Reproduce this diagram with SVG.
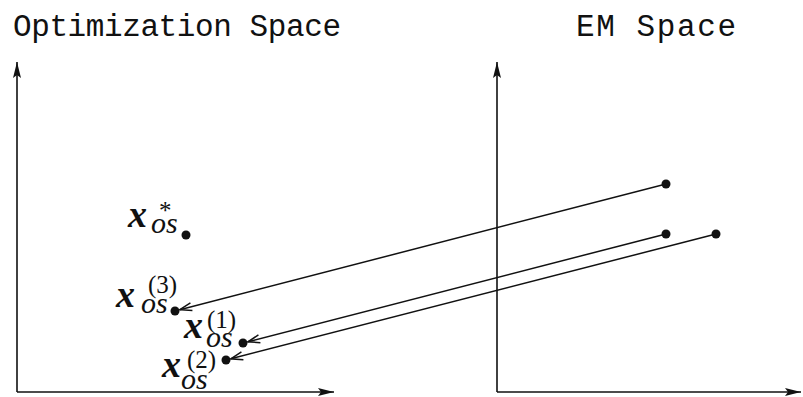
<svg xmlns="http://www.w3.org/2000/svg" width="803" height="397" viewBox="0 0 803 397">
<style>
.title{font-family:"Liberation Mono",monospace;font-size:31px;fill:#111}
.mx{font-family:"Liberation Serif",serif;font-style:italic;font-weight:bold;font-size:38px;fill:#111}
.sub{font-family:"Liberation Serif",serif;font-style:italic;font-size:30px;fill:#111}
.sup{font-family:"Liberation Serif",serif;font-size:25px;fill:#111}
.axis{stroke:#111;stroke-width:1.6;fill:none}
.conn{stroke:#111;stroke-width:1.5;fill:none}
.dot{fill:#111}
</style>
<defs>
<marker id="axhead" markerUnits="userSpaceOnUse" markerWidth="20" markerHeight="12" refX="16" refY="5" orient="auto" overflow="visible">
<path d="M0,1 L16,5 L0,9 L3,5 Z" fill="#111"/>
</marker>
<marker id="vhead" markerUnits="userSpaceOnUse" markerWidth="16" markerHeight="12" refX="0" refY="0" orient="auto" overflow="visible">
<path d="M-12,-4 L0,0 L-12,4" fill="none" stroke="#111" stroke-width="1.5"/>
</marker>
</defs>
<g id="titles">
<text class="title" x="13" y="36" textLength="328" lengthAdjust="spacing">Optimization Space</text>
<text class="title" x="576" y="36" textLength="160" lengthAdjust="spacing">EM Space</text>
</g>
<g id="axes">
<path class="axis" d="M17,392 L17,62" marker-end="url(#axhead)"/>
<path class="axis" d="M17,392 L334,392" marker-end="url(#axhead)"/>
<path class="axis" d="M497,392 L497,62" marker-end="url(#axhead)"/>
<path class="axis" d="M497,392 L801,392" marker-end="url(#axhead)"/>
</g>
<g id="connectors">
<line class="conn" x1="666" y1="184" x2="179.8" y2="309.7" marker-end="url(#vhead)"/>
<line class="conn" x1="666" y1="234" x2="247.8" y2="341.8" marker-end="url(#vhead)"/>
<line class="conn" x1="716" y1="234" x2="230.8" y2="358.8" marker-end="url(#vhead)"/>
</g>
<g id="node-xstar">
<circle class="dot" cx="186" cy="235" r="4.5"/>
<text class="mx" x="128" y="227">x</text>
<text class="sub" x="151" y="233">os</text>
<text class="sup" x="159" y="219">*</text>
</g>
<g id="node-x3">
<circle class="dot" cx="175" cy="311" r="4.5"/>
<text class="mx" x="116" y="307">x</text>
<text class="sub" x="141" y="313">os</text>
<text class="sup" x="148" y="293">(3)</text>
</g>
<g id="node-x1">
<circle class="dot" cx="243" cy="343" r="4.5"/>
<text class="mx" x="184" y="338">x</text>
<text class="sub" x="206" y="347">os</text>
<text class="sup" x="207" y="328">(1)</text>
</g>
<g id="node-x2">
<circle class="dot" cx="226" cy="360" r="4.5"/>
<text class="mx" x="162" y="377">x</text>
<text class="sub" x="181" y="389">os</text>
<text class="sup" x="187" y="368">(2)</text>
</g>
<g id="node-em1"><circle class="dot" cx="666" cy="184" r="4.5"/></g>
<g id="node-em2"><circle class="dot" cx="666" cy="234" r="4.5"/></g>
<g id="node-em3"><circle class="dot" cx="716" cy="234" r="4.5"/></g>
</svg>
